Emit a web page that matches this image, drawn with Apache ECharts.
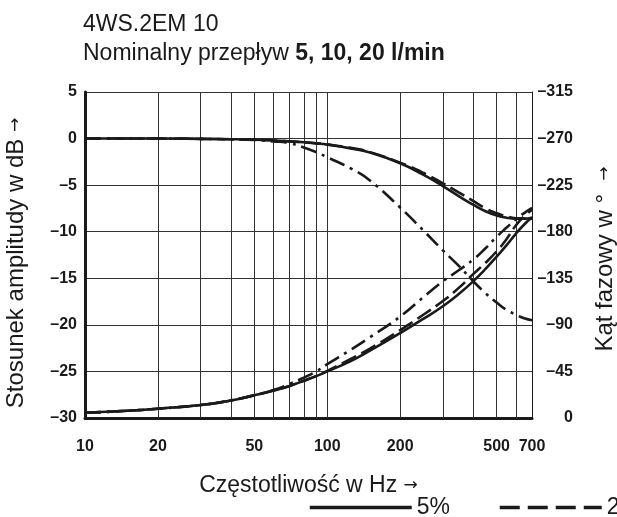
<!DOCTYPE html>
<html><head><meta charset="utf-8">
<script src="https://cdn.jsdelivr.net/npm/echarts@6/dist/echarts.min.js"></script>
<style>html,body{margin:0;padding:0;background:#fff}#c{width:617px;height:517px}</style>
</head><body><div id="c"></div>
<script>
// Frequency points (Hz)
const freq = [10,15,20,30,40,50,60,70,80,90,100,125,150,200,250,300,350,400,450,500,550,600,650,700];
// Amplitude ratio (dB)
const amp5   = [0,0,0,-0.03,-0.07,-0.12,-0.2,-0.3,-0.4,-0.52,-0.65,-1.05,-1.5,-2.65,-3.9,-5.1,-6.2,-7.1,-7.8,-8.25,-8.5,-8.6,-8.6,-8.5];
const amp20  = [0,0,0,-0.03,-0.07,-0.12,-0.2,-0.3,-0.4,-0.5,-0.62,-1.0,-1.45,-2.6,-3.7,-4.8,-5.8,-6.7,-7.5,-8.0,-8.35,-8.55,-8.6,-8.6];
const amp100 = [0,0,0,-0.03,-0.08,-0.15,-0.3,-0.5,-0.95,-1.45,-2.0,-3.2,-4.5,-7.4,-9.9,-12.0,-13.7,-15.3,-16.6,-17.6,-18.4,-18.9,-19.3,-19.5];
// Phase angle (degrees)
const ph5   = [-5,-7,-9,-12.5,-17,-22,-26.5,-31,-36,-40.5,-45,-55,-65,-82,-96,-108,-120,-132,-144,-156,-167,-178,-187,-194];
const ph20  = [-5,-7,-9,-12.5,-17,-22,-26.5,-31,-36,-40.5,-45.5,-57,-67,-85,-100,-113,-126,-139,-150,-161,-173,-186,-195,-201];
const ph100 = [-5,-7,-9,-12.5,-17,-22,-27,-33,-39,-45,-52,-66,-78,-98,-117,-132,-143,-153,-164,-175,-184,-192,-198,-203];
// Axis labels / grid
const xLabelValues = [10,20,50,100,200,500,700];
const xGridValues = [20,30,40,50,60,70,80,90,100,200,300,400,500,600];
const seriesNames = ['5%','20%','100%'];

const dashStyles = ['solid',[16,6],[16,6,3,6]];
const legendDash = ['solid',[20,8],[16,6,3,6]];
const ampData = [amp5, amp20, amp100];
const phData = [ph5, ph20, ph100];
const zip = (a) => freq.map((f,i)=>[f,a[i]]);
const fmtNeg = v => v < 0 ? '\u2013' + Math.abs(v) : String(v);
const tickFont = {fontFamily:'Liberation Sans', fontWeight:'bold', fontSize:16, color:'#1a1a1a'};
const ink = '#1a1a1a';
const arrowRich = {a:{fontFamily:'DejaVu Sans', fontSize:17, color:ink}};

const series = [];
for (let k=0;k<3;k++){
  series.push({name:seriesNames[k], type:'line', xAxisIndex:0, yAxisIndex:0, data:zip(ampData[k]),
    symbol:'none', smooth:true, lineStyle:{color:ink, width:2.6, type:dashStyles[k]}, itemStyle:{color:ink}, z:5});
  series.push({name:seriesNames[k], type:'line', xAxisIndex:0, yAxisIndex:1, data:zip(phData[k]),
    symbol:'none', smooth:true, lineStyle:{color:ink, width:2.6, type:dashStyles[k]}, itemStyle:{color:ink}, z:5});
}
series.push({type:'line', data:[], xAxisIndex:0, yAxisIndex:0, silent:true,
  markLine:{silent:true, symbol:'none', label:{show:false}, lineStyle:{color:'#333', width:1, type:'solid'},
    data: xGridValues.map(v=>({xAxis:v}))}});

const chart = echarts.init(document.getElementById('c'), null, {renderer:'canvas'});
chart.setOption({
  animation:false,
  backgroundColor:'#fff',
  title:{left:78, top:5, text:'4WS.2EM 10\nNominalny przepływ {b|5, 10, 20 l/min}',
    textStyle:{fontFamily:'Liberation Sans', fontSize:23, fontWeight:'normal', color:ink, lineHeight:29,
      rich:{b:{fontFamily:'Liberation Sans', fontSize:23, fontWeight:'bold', color:ink, lineHeight:29}}}},
  grid:{left:85, right:85, top:92, bottom:99, containLabel:false},
  legend:{left:303, top:491, width:1000, itemWidth:102, itemHeight:14, itemGap:48,
    itemStyle:{opacity:0},
    textStyle:{fontFamily:'Liberation Sans', fontSize:23, color:ink},
    data: seriesNames.map((n,k)=>({name:n, lineStyle:{color:ink, width:3.5, type:legendDash[k]}}))},
  xAxis:{type:'log', logBase:10, min:10, max:700,
    name:'Częstotliwość w Hz {a|→}', nameLocation:'middle', nameGap:56,
    nameTextStyle:{fontFamily:'Liberation Sans', fontSize:23, color:ink, rich:arrowRich},
    axisLine:{show:true, onZero:false, lineStyle:{color:ink, width:3}},
    axisTick:{show:false},
    axisLabel:{customValues:xLabelValues, margin:21, ...tickFont, formatter:v=>String(Math.round(v))},
    splitLine:{show:false}, minorSplitLine:{show:false}},
  yAxis:[
    {type:'value', min:-30, max:5, interval:5, position:'left',
      axisLine:{show:true, onZero:false, lineStyle:{color:ink, width:3}},
      axisTick:{show:false},
      axisLabel:{margin:8, ...tickFont, formatter:fmtNeg},
      splitLine:{show:true, lineStyle:{color:'#333', width:1}}},
    {type:'value', min:-315, max:0, interval:45, inverse:true, position:'right',
      axisLine:{show:true, onZero:false, lineStyle:{color:ink, width:1}},
      axisTick:{show:false},
      axisLabel:{margin:41, align:'right', ...tickFont, formatter:fmtNeg},
      splitLine:{show:false}}
  ],
  graphic:[
    {type:'text', x:16, y:263, rotation:Math.PI/2,
      style:{text:'Stosunek amplitudy w dB {a|→}', font:'24px "Liberation Sans"', fill:ink, align:'center', verticalAlign:'middle', rich:arrowRich}},
    {type:'text', x:605, y:259, rotation:Math.PI/2,
      style:{text:'Kąt fazowy w °  {a|→}', font:'24px "Liberation Sans"', fill:ink, align:'center', verticalAlign:'middle', rich:arrowRich}}
  ],
  series:series
});
</script>
</body></html>
